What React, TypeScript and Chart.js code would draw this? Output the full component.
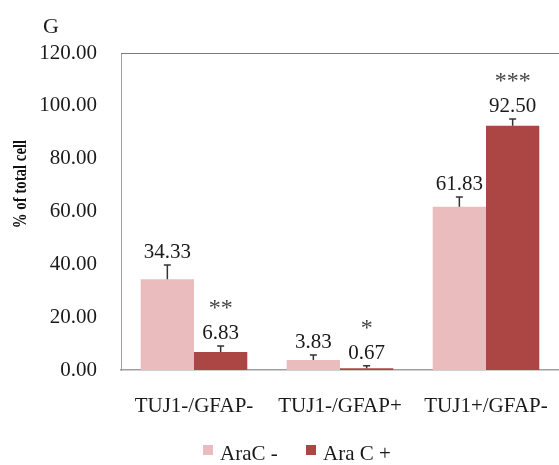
import React, { useEffect, useRef } from "react";
import { Chart, registerables } from "chart.js";

Chart.register(...registerables);

const categories = ["TUJ1-/GFAP-", "TUJ1-/GFAP+", "TUJ1+/GFAP-"];
const seriesNames = ["AraC -", "Ara C +"];
const araCMinus = [34.33, 3.83, 61.83];
const araCPlus = [6.83, 0.67, 92.5];
const errMinus = [5.4, 1.85, 3.65];
const errPlus = [2.25, 0.95, 2.5];
const sigMinus = ["", "", ""];
const sigPlus = ["**", "*", "***"];
const panelLabel = "G";
const yTitle = "% of total cell";

const colorMinus = "#ebbcbd";
const colorPlus = "#ab4645";
const FONT = "'Liberation Serif', 'Times New Roman', serif";

export default function App() {
  const ref = useRef<HTMLCanvasElement | null>(null);

  useEffect(() => {
    document.body.style.margin = "0";
    const canvas = ref.current;
    if (!canvas) return;
    const errs = [errMinus, errPlus];
    const sigs = [sigMinus, sigPlus];
    const values = [araCMinus, araCPlus];

    const overlay = {
      id: "overlay",
      afterDatasetsDraw(chart: any) {
        const ctx = chart.ctx;
        const y = chart.scales.y;
        ctx.save();
        for (let d = 0; d < 2; d++) {
          const meta = chart.getDatasetMeta(d);
          meta.data.forEach((bar: any, i: number) => {
            const v = values[d][i];
            const top = y.getPixelForValue(v);
            const et = y.getPixelForValue(v + errs[d][i]);
            const x = bar.x;
            ctx.strokeStyle = "#333";
            ctx.lineWidth = 1.5;
            ctx.beginPath();
            ctx.moveTo(x, top);
            ctx.lineTo(x, et);
            ctx.moveTo(x - 3.5, et);
            ctx.lineTo(x + 3.5, et);
            ctx.stroke();
            ctx.fillStyle = "#1a1a1a";
            ctx.font = `21px ${FONT}`;
            ctx.textAlign = "center";
            ctx.textBaseline = "alphabetic";
            const lb = et - 7;
            ctx.fillText(v.toFixed(2), x, lb);
            if (sigs[d][i]) {
              ctx.fillStyle = "#444";
              ctx.font = `24px ${FONT}`;
              ctx.fillText(sigs[d][i], x, lb - 24);
            }
          });
        }
        ctx.restore();
      },
      afterDraw(chart: any) {
        const ctx = chart.ctx;
        const a = chart.chartArea;
        ctx.save();
        // top border
        ctx.strokeStyle = "#7a7a7a";
        ctx.lineWidth = 1;
        ctx.beginPath();
        ctx.moveTo(a.left, a.top + 0.5);
        ctx.lineTo(a.right, a.top + 0.5);
        ctx.stroke();
        // panel label
        ctx.fillStyle = "#1a1a1a";
        ctx.font = `22px ${FONT}`;
        ctx.textAlign = "left";
        ctx.textBaseline = "alphabetic";
        ctx.fillText(panelLabel, 43, 33);
        // y title
        ctx.save();
        ctx.translate(21, 184);
        ctx.rotate(-Math.PI / 2);
        ctx.scale(0.78, 1);
        ctx.font = `bold 19px ${FONT}`;
        ctx.textAlign = "center";
        ctx.textBaseline = "middle";
        ctx.fillStyle = "#111";
        ctx.fillText(yTitle, 0, 0);
        ctx.restore();
        // legend
        const items = [
          { x: 203, c: colorMinus, t: seriesNames[0] },
          { x: 306, c: colorPlus, t: seriesNames[1] },
        ];
        ctx.font = `21px ${FONT}`;
        items.forEach((it) => {
          ctx.fillStyle = it.c;
          ctx.fillRect(it.x, 445, 10, 10);
          ctx.fillStyle = "#1a1a1a";
          ctx.textAlign = "left";
          ctx.textBaseline = "alphabetic";
          ctx.fillText(it.t, it.x + 17, 460);
        });
        ctx.restore();
      },
    };

    const chart = new Chart(canvas, {
      type: "bar",
      data: {
        labels: categories,
        datasets: [
          { label: seriesNames[0], data: araCMinus, backgroundColor: colorMinus, categoryPercentage: 0.73, barPercentage: 1 },
          { label: seriesNames[1], data: araCPlus, backgroundColor: colorPlus, categoryPercentage: 0.73, barPercentage: 1 },
        ],
      },
      options: {
        responsive: false,
        animation: false,
        layout: { padding: { top: 53, left: 0, right: 0, bottom: 0 } },
        plugins: { legend: { display: false }, tooltip: { enabled: false } },
        scales: {
          x: {
            grid: { display: false, drawTicks: false },
            border: { display: true, color: "#a0a0a0", width: 1.5 },
            ticks: { font: { family: FONT, size: 21 }, color: "#1a1a1a", padding: 24, maxRotation: 0 },
            afterFit: (s: any) => { s.height = 95; s.paddingLeft = 0; s.paddingRight = 0; },
          },
          y: {
            min: 0,
            max: 120,
            grid: { display: false, drawTicks: false },
            border: { display: true, color: "#a0a0a0", width: 1 },
            ticks: {
              stepSize: 20,
              font: { family: FONT, size: 21 },
              color: "#1a1a1a",
              padding: 24,
              callback: (v: any) => Number(v).toFixed(2),
            },
            afterFit: (s: any) => { s.width = 121; s.paddingTop = 0; s.paddingBottom = 0; },
          },
        },
      },
      plugins: [overlay],
    });
    return () => chart.destroy();
  }, []);

  return (
    <div style={{ position: "fixed", left: 0, top: 0, width: 559, height: 465, background: "#fff" }}>
      <canvas ref={ref} width={559} height={465} />
    </div>
  );
}
